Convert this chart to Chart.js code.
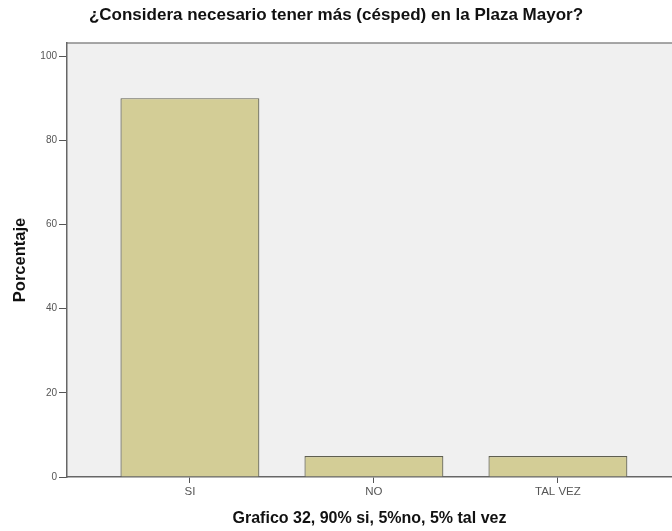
<!DOCTYPE html>
<html>
<head>
<meta charset="utf-8">
<script src="https://cdn.jsdelivr.net/npm/chart.js@4"></script>
<style>
  html, body { margin: 0; padding: 0; background: #fff; }
  #wrap { width: 672px; height: 531px; }
</style>
</head>
<body>
<div id="wrap"><canvas id="chart" width="672" height="531"></canvas></div>
<script>
// datos
const categorias = ["SI", "NO", "TAL VEZ"];
const porcentajes = [90, 5, 5];
const ticksY = [0, 20, 40, 60, 80, 100];

// fondo gris del área y línea superior, como en SPSS
const fondoPlot = {
    id: "fondoPlot",
    beforeDraw(chart) {
        const { ctx, chartArea: a } = chart;
        ctx.save();
        ctx.fillStyle = "#f0f0f0";
        ctx.fillRect(a.left, a.top, a.right - a.left, a.bottom - a.top);
        ctx.strokeStyle = "#8a8a8a";
        ctx.lineWidth = 1.5;
        ctx.beginPath();
        ctx.moveTo(a.left, a.top);
        ctx.lineTo(a.right, a.top);
        ctx.stroke();
        ctx.restore();
    }
};

new Chart(document.getElementById("chart"), {
    type: "bar",
    data: {
        datasets: [{
            data: porcentajes.map((v, i) => ({ x: i, y: v })),
            backgroundColor: "#d3cd96",
            borderColor: "#5f5f50",
            borderWidth: 1.2,
            categoryPercentage: 1,
            barPercentage: 0.755
        }]
    },
    options: {
        responsive: false,
        animation: false,
        layout: { padding: 0 },
        plugins: {
            legend: { display: false },
            tooltip: { enabled: false },
            title: {
                display: true,
                text: "¿Considera necesario tener más (césped) en la Plaza Mayor?",
                color: "#111",
                font: { family: "Liberation Sans", size: 17, weight: "bold" },
                padding: { top: 5, bottom: 17.6 }
            }
        },
        scales: {
            x: {
                type: "linear",
                offset: false,
                min: -0.668,
                max: 2.62,
                grid: { drawOnChartArea: false, offset: false, color: "#555", tickLength: 6 },
                border: { color: "#666", width: 1.5 },
                afterBuildTicks: s => { s.ticks = categorias.map((c, i) => ({ value: i })); },
                afterFit: s => { s.height = 54; },
                ticks: {
                    callback: v => categorias[v],
                    color: "#555",
                    font: { family: "Liberation Sans", size: 11.5 },
                    padding: 2
                },
                title: {
                    display: true,
                    text: "Grafico 32, 90% si, 5%no, 5% tal vez",
                    color: "#111",
                    font: { family: "Liberation Sans", size: 16, weight: "bold" },
                    padding: { top: 5, bottom: 3 }
                }
            },
            y: {
                min: 0,
                max: 103.1,
                grid: { drawOnChartArea: false, color: "#555", tickLength: 8 },
                border: { color: "#666", width: 1.5 },
                afterBuildTicks: s => { s.ticks = ticksY.map(v => ({ value: v })); },
                afterFit: s => { s.width = 67; },
                ticks: {
                    color: "#555",
                    font: { family: "Liberation Sans", size: 10 },
                    padding: 2
                },
                title: {
                    display: true,
                    text: "Porcentaje",
                    color: "#111",
                    font: { family: "Liberation Sans", size: 16.5, weight: "bold" },
                    padding: { top: 11, bottom: 0 }
                }
            }
        }
    },
    plugins: [fondoPlot]
});
</script>
</body>
</html>
